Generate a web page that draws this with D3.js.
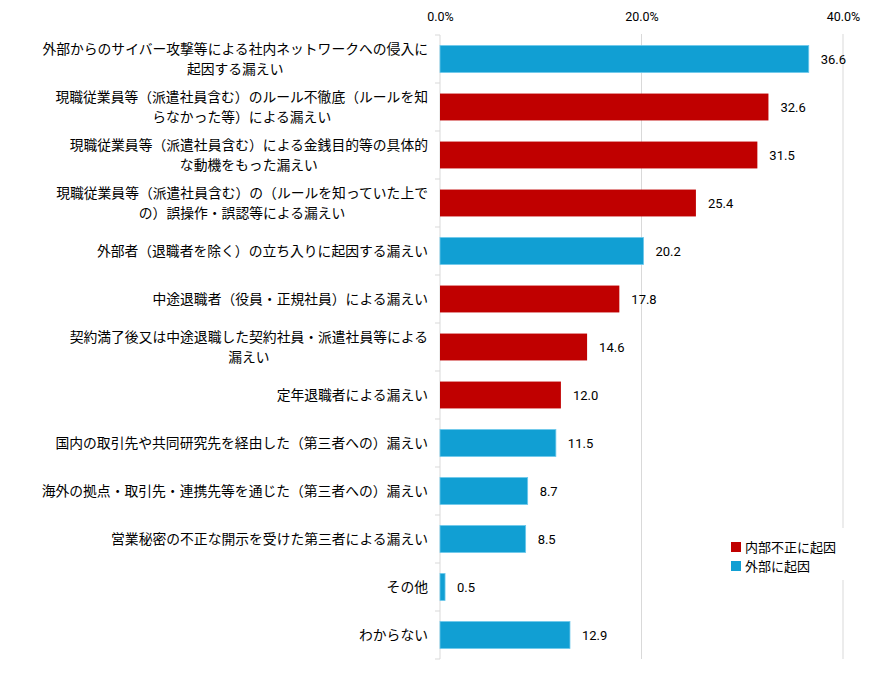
<!DOCTYPE html>
<html>
<head>
<meta charset="utf-8">
<script src="https://cdn.jsdelivr.net/npm/d3@7"></script>
<style>
  body { margin: 0; background: #fff; }
  text { font-family: "Noto Sans CJK JP", "Noto Sans", sans-serif; fill: #000; }
</style>
</head>
<body>
<script>
// categories, "\n" marks the line break as in the original
const categories = [
  "外部からのサイバー攻撃等による社内ネットワークへの侵入に\n起因する漏えい",
  "現職従業員等（派遣社員含む）のルール不徹底（ルールを知\nらなかった等）による漏えい",
  "現職従業員等（派遣社員含む）による金銭目的等の具体的\nな動機をもった漏えい",
  "現職従業員等（派遣社員含む）の（ルールを知っていた上で\nの）誤操作・誤認等による漏えい",
  "外部者（退職者を除く）の立ち入りに起因する漏えい",
  "中途退職者（役員・正規社員）による漏えい",
  "契約満了後又は中途退職した契約社員・派遣社員等による\n漏えい",
  "定年退職者による漏えい",
  "国内の取引先や共同研究先を経由した（第三者への）漏えい",
  "海外の拠点・取引先・連携先等を通じた（第三者への）漏えい",
  "営業秘密の不正な開示を受けた第三者による漏えい",
  "その他",
  "わからない"
];
const values = [36.6, 32.6, 31.5, 25.4, 20.2, 17.8, 14.6, 12.0, 11.5, 8.7, 8.5, 0.5, 12.9];
const groups = ["外部", "内部", "内部", "内部", "外部", "内部", "内部", "内部", "外部", "外部", "外部", "外部", "外部"];
const legendNames = ["内部不正に起因", "外部に起因"];
const ticks = [0, 20, 40];

const width = 887, height = 676;
const svg = d3.select("body").append("svg")
  .attr("width", width)
  .attr("height", height);

const x = d3.scaleLinear().domain([0, 40]).range([440, 843]);
const y = d3.scaleBand().domain(d3.range(categories.length)).range([35, 659]).paddingInner(0.44).paddingOuter(0.22);
const color = d3.scaleOrdinal().domain(["内部", "外部"]).range(["#C00000", "#119FD3"]);

// grid lines
svg.append("g").selectAll("line")
  .data(ticks.slice(1))
  .join("line")
  .attr("x1", d => x(d)).attr("x2", d => x(d))
  .attr("y1", 34).attr("y2", 659)
  .attr("stroke", "#d9d9d9");

// top axis labels
const xAxis = d3.axisTop(x).tickValues(ticks).tickSize(0).tickFormat(d => d.toFixed(1) + "%");
svg.append("g")
  .attr("transform", "translate(0,24)")
  .call(xAxis)
  .call(g => g.select(".domain").remove())
  .call(g => g.selectAll("text").style("font-family", "Roboto, 'Liberation Sans', sans-serif").style("font-size", "12.5px").attr("fill", "#000"));

// left axis with ticks between categories
svg.append("line")
  .attr("x1", 440).attr("x2", 440).attr("y1", 35).attr("y2", 659)
  .attr("stroke", "#d9d9d9");
svg.append("g").selectAll("line")
  .data(d3.range(categories.length + 1))
  .join("line")
  .attr("x1", 435).attr("x2", 440)
  .attr("y1", i => 35 + i * (624 / categories.length))
  .attr("y2", i => 35 + i * (624 / categories.length))
  .attr("stroke", "#d9d9d9");

// bars
svg.append("g").selectAll("rect")
  .data(values)
  .join("rect")
  .attr("x", x(0))
  .attr("y", (d, i) => y(i))
  .attr("width", d => x(d) - x(0))
  .attr("height", y.bandwidth())
  .attr("fill", (d, i) => color(groups[i]))
  .attr("stroke", (d, i) => groups[i] === "外部" ? "#6cc8ec" : "none")
  .attr("stroke-width", 0.8);

// value labels
svg.append("g").selectAll("text")
  .data(values)
  .join("text")
  .attr("x", d => x(d) + 12)
  .attr("y", (d, i) => y(i) + y.bandwidth() / 2)
  .attr("dy", "0.35em")
  .style("font-family", "Roboto, 'Liberation Sans', sans-serif")
  .style("font-size", "13px")
  .text(d => d.toFixed(1));

// category labels
const labelRight = 428;
const lab = svg.append("g").selectAll("text")
  .data(categories)
  .join("text")
  .style("font-size", "13.8px")
  .attr("text-anchor", "middle");
lab.each(function(d, i) {
  const t = d3.select(this);
  const lines = d.split("\n");
  const cy = y(i) + y.bandwidth() / 2;
  const lh = 20;
  lines.forEach((s, k) => {
    t.append("tspan")
      .attr("y", cy + (k - (lines.length - 1) / 2) * lh)
      .attr("dy", "0.35em")
      .text(s);
  });
  let w = 0;
  t.selectAll("tspan").each(function() { w = Math.max(w, this.getComputedTextLength()); });
  t.selectAll("tspan").attr("x", labelRight - w / 2);
});

// legend
const legend = svg.append("g").attr("transform", "translate(726,536)");
legend.append("rect").attr("x", 0).attr("y", -8).attr("width", 140).attr("height", 52).attr("fill", "#fff");
const li = legend.selectAll("g")
  .data(legendNames)
  .join("g")
  .attr("transform", (d, i) => `translate(5,${11 + i * 19})`);
li.append("rect")
  .attr("y", -5).attr("width", 10).attr("height", 10)
  .attr("fill", (d, i) => color.range()[i]);
li.append("text")
  .attr("x", 14)
  .attr("dy", "0.35em")
  .style("font-size", "13px")
  .text(d => d);
</script>
</body>
</html>
